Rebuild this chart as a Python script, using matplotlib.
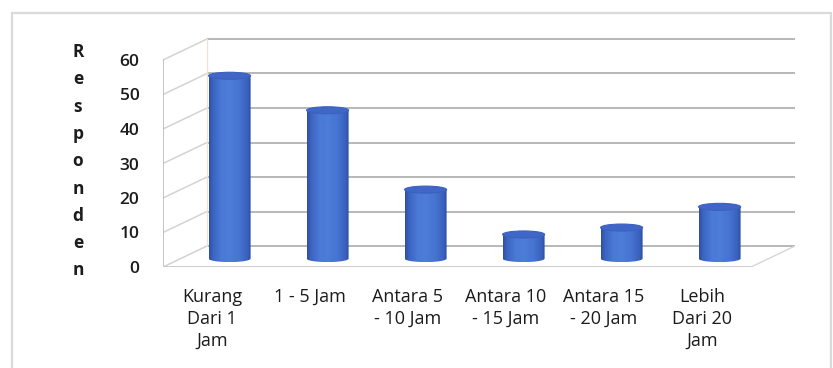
import numpy as np
import matplotlib
matplotlib.use("Agg")
import matplotlib.pyplot as plt
from matplotlib.patches import Ellipse, PathPatch, Rectangle
from matplotlib.path import Path
from matplotlib.colors import LinearSegmentedColormap

# ---- data ----
categories = ["Kurang\nDari 1\nJam", "1 - 5 Jam", "Antara 5\n- 10 Jam",
              "Antara 10\n- 15 Jam", "Antara 15\n- 20 Jam", "Lebih\nDari 20\nJam"]
values = [53, 43, 20, 7, 9, 15]
y_ticks = [0, 10, 20, 30, 40, 50, 60]
y_title = "Responden"

# ---- figure geometry (pixels) ----
W, H = 833, 368
fig = plt.figure(figsize=(W / 100, H / 100), dpi=100)
fig.patch.set_facecolor("white")


def fx(px):
    return px / W


def fy(py):
    return 1 - py / H


# outer chart frame
fig.patches.append(Rectangle((fx(12), fy(375)), fx(831) - fx(12), fy(13) - fy(375),
                             transform=fig.transFigure, fill=False,
                             edgecolor="#dadada", lw=1.6))

FONT = ["Open Sans", "DejaVu Sans"]
TXT = "#1c1c1c"

# front plane: x from 163 px, value 0 at 267 px, 60 at 60 px
PPC = 98.0                 # pixels per category
PPU = (267 - 60) / 60.0    # pixels per value unit
ax = fig.add_axes([fx(163), fy(267), fx(795) - fx(163), fy(38) - fy(267)])
XMIN, XMAX = -0.5, -0.5 + (795 - 163) / PPC
YMIN, YMAX = 0, (267 - 38) / PPU
ax.patch.set_alpha(0)
for s in ax.spines.values():
    s.set_visible(False)

# depth of the 3D box (back wall offset) in data units
DX = 44 / PPC
DY = 21 / PPU
n = len(categories)
x0, x1 = -0.5, n - 0.5

# back wall gridlines
for v in y_ticks:
    ax.plot([x0 + DX, x1 + DX], [v + DY, v + DY], color="#ababab", lw=1.2,
            solid_capstyle="butt", zorder=1)
# side wall diagonals
for v in y_ticks:
    ax.plot([x0, x0 + DX], [v, v + DY], color="#d3d3d3", lw=1.1, zorder=1)
ax.plot([x0 + DX, x0 + DX], [DY, y_ticks[-1] + DY], color="#eee3da", lw=0.9, zorder=1)
ax.plot([x0, x0], [0, y_ticks[-1]], color="#bababa", lw=1.2, zorder=1)
# floor edges
ax.plot([x0, x1], [0, 0], color="#c8c8c8", lw=1.3, zorder=6)
ax.plot([x1, x1 + DX], [0, DY], color="#d6d6d6", lw=1.0, zorder=6)

# ---- cylinders ----
FR = 0.4                   # bars sit at this fraction of the depth
BX, BY = FR * DX, FR * DY
BW = 42 / PPC
EH = 7 / PPU               # ellipse height of cylinder caps

cyl = LinearSegmentedColormap.from_list("cyl", [
    (0.00, "#2f4f9f"), (0.10, "#3c64c2"), (0.30, "#4a79d6"),
    (0.50, "#4d7dd8"), (0.75, "#4572cf"), (0.92, "#3961bd"), (1.00, "#2e4fa2")])
grad = np.linspace(0, 1, 256).reshape(1, -1)

bars = ax.bar(np.arange(n) + BX, values, width=BW, bottom=BY,
              color="none", edgecolor="none", zorder=3)
for rect in bars:
    bx0 = rect.get_x()
    bw = rect.get_width()
    yb = rect.get_y()
    yt = yb + rect.get_height()
    xc = bx0 + bw / 2
    t = np.linspace(np.pi, 2 * np.pi, 40)
    arc = np.column_stack([xc + bw / 2 * np.cos(t), yb + EH / 2 * np.sin(t)])
    verts = np.vstack([[bx0, yt], arc, [bx0 + bw, yt], [bx0, yt]])
    clip = PathPatch(Path(verts), transform=ax.transData, facecolor="none",
                     edgecolor="none")
    ax.add_patch(clip)
    im = ax.imshow(grad, cmap=cyl, aspect="auto", interpolation="bilinear",
                   extent=(bx0, bx0 + bw, yb - EH / 2, yt), zorder=3)
    im.set_clip_path(clip)
    ax.add_patch(Ellipse((xc, yt), bw, EH, facecolor="#4067c7",
                         edgecolor="#3c61bf", lw=0.8, zorder=4))

ax.set_xlim(XMIN, XMAX)
ax.set_ylim(YMIN, YMAX)
ax.set_autoscale_on(False)

# ---- axis labels ----
ax.set_yticks(y_ticks)
ax.set_yticklabels([str(v) for v in y_ticks], family=FONT, fontsize=12.5,
                   fontweight="semibold", color=TXT)
ax.tick_params(axis="y", length=0, pad=17)
ax.set_xticks(np.arange(n))
ax.set_xticklabels(categories, family=FONT, fontsize=13, color=TXT,
                   fontweight="medium", linespacing=1.3)
ax.tick_params(axis="x", length=0, pad=15)

# vertical stacked title
for i, ch in enumerate(y_title):
    fig.text(fx(78), fy(57 + i * 27.3), ch, family=FONT, fontsize=12.5,
             fontweight="bold", color=TXT, ha="center", va="baseline")

fig.savefig("out.png", dpi=100, facecolor="white")
